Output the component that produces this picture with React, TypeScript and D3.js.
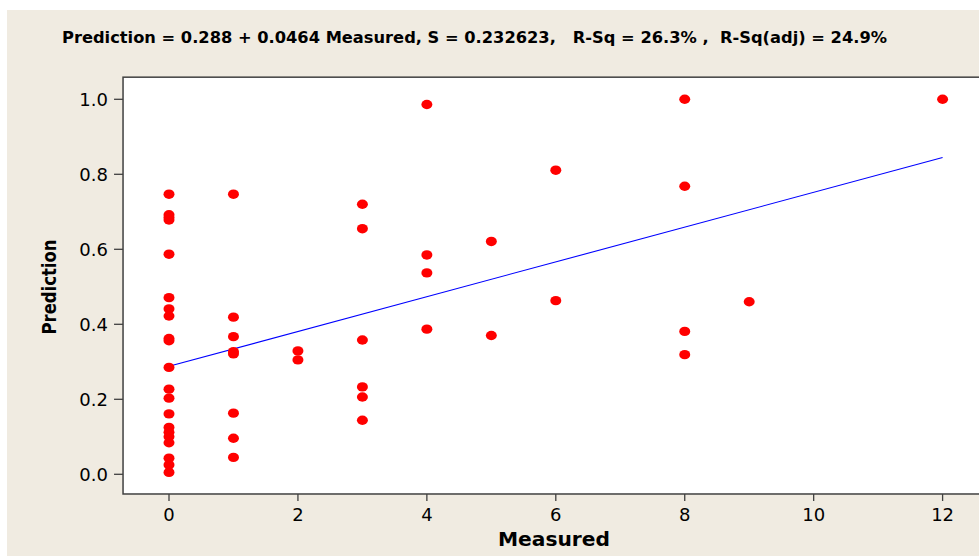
import React from "react";
import * as d3 from "d3";

const measured = [
  0, 0, 0, 0, 0, 0, 0, 0, 0, 0, 0, 0, 0, 0, 0, 0, 0, 0, 0, 0, 0,
  1, 1, 1, 1, 1, 1, 1, 1,
  2, 2,
  3, 3, 3, 3, 3, 3,
  4, 4, 4, 4,
  5, 5,
  6, 6,
  8, 8, 8, 8,
  9,
  12,
];
const prediction = [
  0.747, 0.692, 0.685, 0.678, 0.587, 0.471, 0.441, 0.422, 0.362, 0.356, 0.285, 0.227, 0.203, 0.161, 0.125, 0.112, 0.1, 0.084, 0.043, 0.025, 0.005,
  0.747, 0.419, 0.367, 0.327, 0.321, 0.163, 0.096, 0.045,
  0.329, 0.305,
  0.72, 0.655, 0.358, 0.233, 0.206, 0.144,
  0.986, 0.585, 0.537, 0.387,
  0.621, 0.37,
  0.811, 0.463,
  1.0, 0.768, 0.381, 0.319,
  0.46,
  1.0,
];
const xTicks = [0, 2, 4, 6, 8, 10, 12];
const yTicks = [0, 0.2, 0.4, 0.6, 0.8, 1.0];
const intercept = 0.288;
const slope = 0.0464;
const fitRange = [0, 12];
const titleText =
  "Prediction = 0.288 + 0.0464 Measured, S = 0.232623,   R-Sq = 26.3% ,  R-Sq(adj) = 24.9%";

export default function App() {
  const W = 979;
  const H = 556;
  const x = d3.scaleLinear().domain([0, 12]).range([169, 942.6]);
  const y = d3.scaleLinear().domain([0, 1]).range([474.3, 99.3]);
  const frameL = x(-0.713);
  const frameR = x(12.8);
  const frameT = y(1.059);
  const frameB = y(-0.0525);
  const line = d3
    .line<number>()
    .x((d) => x(d))
    .y((d) => y(intercept + slope * d));
  const font = "DejaVu Sans, Verdana, sans-serif";
  return (
    <svg
      width={W}
      height={H}
      style={{ position: "absolute", left: 0, top: 0, display: "block" }}
    >
      <rect x={0} y={0} width={W} height={H} fill="#ffffff" />
      <rect x={7} y={10} width={W} height={H} fill="#f0ebe1" />
      <text
        x={62}
        y={43}
        fontFamily={font}
        fontWeight="bold"
        fontSize={15}
        textLength={825}
        lengthAdjust="spacingAndGlyphs"
        style={{ whiteSpace: "pre" }}
        fill="#000"
      >
        {titleText}
      </text>
      <rect
        x={frameL}
        y={frameT}
        width={frameR - frameL}
        height={frameB - frameT}
        fill="#ffffff"
        stroke="#404040"
        strokeWidth={1.5}
      />
      {yTicks.map((t) => (
        <g key={"y" + t}>
          <line x1={frameL - 9} x2={frameL} y1={y(t)} y2={y(t)} stroke="#404040" strokeWidth={1.3} />
          <text
            x={108}
            y={y(t) + 6.5}
            textAnchor="end"
            fontFamily={font}
            fontSize={18}
            fill="#000"
          >
            {t.toFixed(1)}
          </text>
        </g>
      ))}
      {xTicks.map((t) => (
        <g key={"x" + t}>
          <line x1={x(t)} x2={x(t)} y1={frameB} y2={frameB + 7} stroke="#404040" strokeWidth={1.3} />
          <text
            x={x(t)}
            y={521}
            textAnchor="middle"
            fontFamily={font}
            fontSize={18}
            fill="#000"
          >
            {String(t)}
          </text>
        </g>
      ))}
      <path d={line(fitRange) || ""} fill="none" stroke="#0000ff" strokeWidth={1.1} />
      {measured.map((m, i) => (
        <ellipse key={i} cx={x(m)} cy={y(prediction[i])} rx={5.5} ry={4.7} fill="#ff0000" />
      ))}
      <text
        x={554}
        y={546}
        textAnchor="middle"
        fontFamily={font}
        fontWeight="bold"
        fontSize={19}
        textLength={112}
        lengthAdjust="spacingAndGlyphs"
        fill="#000"
      >
        Measured
      </text>
      <text
        transform={`translate(56, 287) rotate(-90)`}
        textAnchor="middle"
        fontFamily={font}
        fontWeight="bold"
        fontSize={19}
        textLength={95}
        lengthAdjust="spacingAndGlyphs"
        fill="#000"
      >
        Prediction
      </text>
    </svg>
  );
}
